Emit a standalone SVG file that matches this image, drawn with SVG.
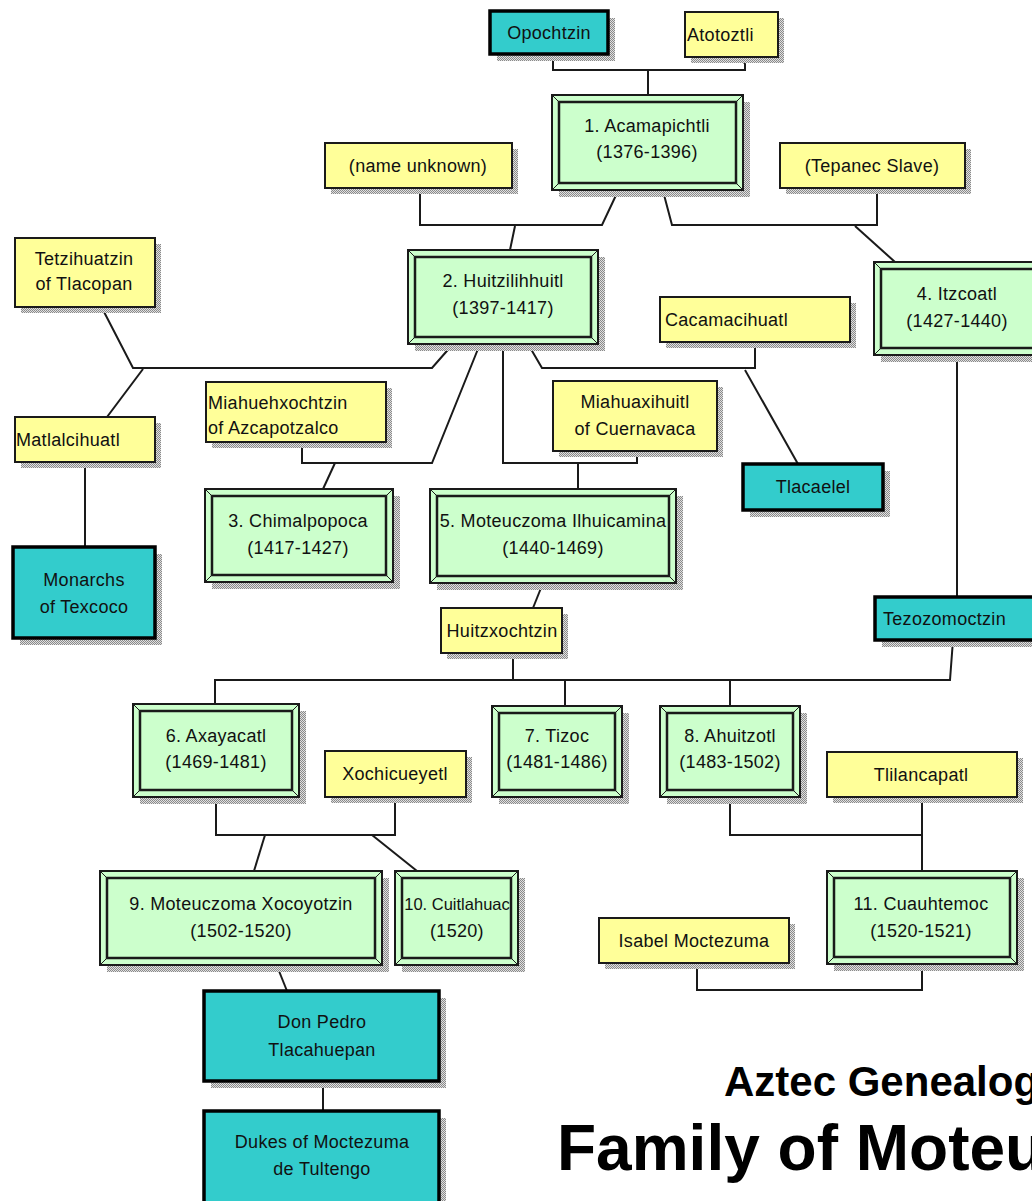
<svg xmlns="http://www.w3.org/2000/svg" width="1032" height="1201" viewBox="0 0 1032 1201">
<style>
.sh{fill:url(#dither)}
.y{fill:#ffff99;stroke:#1a1a1a;stroke-width:2}
.g{fill:#ccffcc;stroke:#1a1a1a;stroke-width:2}
.gi{fill:none;stroke:#1a1a1a;stroke-width:2.5}
.bv{fill:none;stroke:#1a1a1a;stroke-width:1}
.t{fill:#33cccc;stroke:#000;stroke-width:3.5}
text{font-family:"Liberation Sans",Arial,sans-serif;font-size:18px;letter-spacing:0.3px;fill:#111}
.c{text-anchor:middle}
.ln{fill:none;stroke:#1a1a1a;stroke-width:2}
.title{font-weight:bold;letter-spacing:0;fill:#000}
</style>
<defs>
<pattern id="dither" width="2" height="2" patternUnits="userSpaceOnUse">
<rect width="2" height="2" fill="#e0e0e0"/>
<rect width="1" height="1" fill="#8a8a8a"/>
<rect x="1" y="1" width="1" height="1" fill="#8a8a8a"/>
</pattern>
</defs>
<rect width="1032" height="1201" fill="#fff"/>

<g id="connectors">
<polyline class="ln" points="553,54 553,70 745,70 745,64 741,57"/>
<polyline class="ln" points="648,70 648,95"/>
<polyline class="ln" points="420,188 420,225 602,225 618,191"/>
<polyline class="ln" points="877,188 877,225 672,225 663,191"/>
<polyline class="ln" points="515,226 510,250"/>
<polyline class="ln" points="855,226 895,262"/>
<polyline class="ln" points="102,308 133,368 432,368 453,344"/>
<polyline class="ln" points="143,369 107,417"/>
<polyline class="ln" points="302,442 302,463 432,463 480,344"/>
<polyline class="ln" points="335,463 323,489"/>
<polyline class="ln" points="503,344 503,463 637,463 637,451"/>
<polyline class="ln" points="578,463 578,489"/>
<polyline class="ln" points="528,344 542,368 755,368 755,342"/>
<polyline class="ln" points="745,370 798,464"/>
<polyline class="ln" points="957,355 957,597"/>
<polyline class="ln" points="85,462 85,547"/>
<polyline class="ln" points="543,583 533,608"/>
<polyline class="ln" points="513,653 513,680"/>
<polyline class="ln" points="215,704 215,680 950,680 953,640"/>
<polyline class="ln" points="565,680 565,706"/>
<polyline class="ln" points="730,680 730,706"/>
<polyline class="ln" points="216,797 216,835 395,835 395,797"/>
<polyline class="ln" points="265,835 254,871"/>
<polyline class="ln" points="372,835 417,871"/>
<polyline class="ln" points="730,797 730,835 922,835"/>
<polyline class="ln" points="922,797 922,871"/>
<polyline class="ln" points="697,963 697,990 922,990 922,964"/>
<polyline class="ln" points="277,966 287,991"/>
<polyline class="ln" points="323,1081 323,1111"/>
</g>

<g id="opochtzin">
<rect class="sh" x="497" y="18" width="118" height="43"/>
<rect class="t" x="490" y="11" width="118" height="43"/>
<text class="c" x="549" y="39">Opochtzin</text>
</g>
<g id="atotoztli">
<rect class="sh" x="691" y="18" width="93" height="45"/>
<rect class="y" x="685" y="12" width="93" height="45"/>
<text x="687" y="41">Atotoztli</text>
</g>
<g id="acamapichtli">
<rect class="sh" x="559" y="102" width="191" height="95"/>
<rect class="g" x="552" y="95" width="191" height="95"/>
<rect class="gi" x="559" y="102" width="177" height="81"/>
<path class="bv" d="M552,95L559,102M743,95L736,102M552,190L559,183M743,190L736,183"/>
<text class="c" x="647" y="132">1. Acamapichtli</text>
<text class="c" x="647" y="158">(1376-1396)</text>
</g>
<g id="name-unknown">
<rect class="sh" x="331" y="149" width="187" height="45"/>
<rect class="y" x="325" y="143" width="187" height="45"/>
<text class="c" x="418" y="172">(name unknown)</text>
</g>
<g id="tepanec-slave">
<rect class="sh" x="786" y="149" width="185" height="45"/>
<rect class="y" x="780" y="143" width="185" height="45"/>
<text class="c" x="872" y="172">(Tepanec Slave)</text>
</g>
<g id="tetzihuatzin">
<rect class="sh" x="21" y="244" width="140" height="69"/>
<rect class="y" x="15" y="238" width="140" height="69"/>
<text class="c" x="84" y="265">Tetzihuatzin</text>
<text class="c" x="84" y="290">of Tlacopan</text>
</g>
<g id="huitzilihhuitl">
<rect class="sh" x="415" y="257" width="190" height="94"/>
<rect class="g" x="408" y="250" width="190" height="94"/>
<rect class="gi" x="415" y="257" width="176" height="80"/>
<path class="bv" d="M408,250L415,257M598,250L591,257M408,344L415,337M598,344L591,337"/>
<text class="c" x="503" y="287">2. Huitzilihhuitl</text>
<text class="c" x="503" y="314">(1397-1417)</text>
</g>
<g id="cacamacihuatl">
<rect class="sh" x="666" y="303" width="190" height="45"/>
<rect class="y" x="660" y="297" width="190" height="45"/>
<text x="665" y="326">Cacamacihuatl</text>
</g>
<g id="itzcoatl">
<rect class="sh" x="881" y="269" width="170" height="93"/>
<rect class="g" x="874" y="262" width="170" height="93"/>
<rect class="gi" x="881" y="269" width="156" height="79"/>
<path class="bv" d="M874,262L881,269M874,355L881,348"/>
<text class="c" x="957" y="300">4. Itzcoatl</text>
<text class="c" x="957" y="327">(1427-1440)</text>
</g>
<g id="matlalcihuatl">
<rect class="sh" x="21" y="423" width="140" height="45"/>
<rect class="y" x="15" y="417" width="140" height="45"/>
<text x="16" y="446">Matlalcihuatl</text>
</g>
<g id="miahuehxochtzin">
<rect class="sh" x="212" y="388" width="180" height="60"/>
<rect class="y" x="206" y="382" width="180" height="60"/>
<text x="208" y="409">Miahuehxochtzin</text>
<text x="208" y="434">of Azcapotzalco</text>
</g>
<g id="miahuaxihuitl">
<rect class="sh" x="559" y="387" width="164" height="70"/>
<rect class="y" x="553" y="381" width="164" height="70"/>
<text class="c" x="635" y="408">Miahuaxihuitl</text>
<text class="c" x="635" y="435">of Cuernavaca</text>
</g>
<g id="tlacaelel">
<rect class="sh" x="750" y="471" width="140" height="46"/>
<rect class="t" x="743" y="464" width="140" height="46"/>
<text class="c" x="813" y="493">Tlacaelel</text>
</g>
<g id="chimalpopoca">
<rect class="sh" x="212" y="496" width="188" height="93"/>
<rect class="g" x="205" y="489" width="188" height="93"/>
<rect class="gi" x="212" y="496" width="174" height="79"/>
<path class="bv" d="M205,489L212,496M393,489L386,496M205,582L212,575M393,582L386,575"/>
<text class="c" x="298" y="527">3. Chimalpopoca</text>
<text class="c" x="298" y="554">(1417-1427)</text>
</g>
<g id="moteuczoma-ilhuicamina">
<rect class="sh" x="437" y="496" width="246" height="94"/>
<rect class="g" x="430" y="489" width="246" height="94"/>
<rect class="gi" x="437" y="496" width="232" height="80"/>
<path class="bv" d="M430,489L437,496M676,489L669,496M430,583L437,576M676,583L669,576"/>
<text class="c" x="553" y="527">5. Moteuczoma Ilhuicamina</text>
<text class="c" x="553" y="554">(1440-1469)</text>
</g>
<g id="monarchs-texcoco">
<rect class="sh" x="20" y="554" width="142" height="91"/>
<rect class="t" x="13" y="547" width="142" height="91"/>
<text class="c" x="84" y="586">Monarchs</text>
<text class="c" x="84" y="613">of Texcoco</text>
</g>
<g id="huitzxochtzin">
<rect class="sh" x="447" y="614" width="121" height="45"/>
<rect class="y" x="441" y="608" width="121" height="45"/>
<text class="c" x="502" y="637">Huitzxochtzin</text>
</g>
<g id="tezozomoctzin">
<rect class="sh" x="882" y="604" width="170" height="43"/>
<rect class="t" x="875" y="597" width="170" height="43"/>
<text x="883" y="625">Tezozomoctzin</text>
</g>
<g id="axayacatl">
<rect class="sh" x="140" y="711" width="166" height="93"/>
<rect class="g" x="133" y="704" width="166" height="93"/>
<rect class="gi" x="140" y="711" width="152" height="79"/>
<path class="bv" d="M133,704L140,711M299,704L292,711M133,797L140,790M299,797L292,790"/>
<text class="c" x="216" y="742">6. Axayacatl</text>
<text class="c" x="216" y="768">(1469-1481)</text>
</g>
<g id="tizoc">
<rect class="sh" x="499" y="713" width="130" height="91"/>
<rect class="g" x="492" y="706" width="130" height="91"/>
<rect class="gi" x="499" y="713" width="116" height="77"/>
<path class="bv" d="M492,706L499,713M622,706L615,713M492,797L499,790M622,797L615,790"/>
<text class="c" x="557" y="742">7. Tizoc</text>
<text class="c" x="557" y="768">(1481-1486)</text>
</g>
<g id="ahuitzotl">
<rect class="sh" x="667" y="713" width="140" height="91"/>
<rect class="g" x="660" y="706" width="140" height="91"/>
<rect class="gi" x="667" y="713" width="126" height="77"/>
<path class="bv" d="M660,706L667,713M800,706L793,713M660,797L667,790M800,797L793,790"/>
<text class="c" x="730" y="742">8. Ahuitzotl</text>
<text class="c" x="730" y="768">(1483-1502)</text>
</g>
<g id="xochicueyetl">
<rect class="sh" x="331" y="757" width="141" height="46"/>
<rect class="y" x="325" y="751" width="141" height="46"/>
<text class="c" x="395" y="780">Xochicueyetl</text>
</g>
<g id="tlilancapatl">
<rect class="sh" x="833" y="758" width="190" height="45"/>
<rect class="y" x="827" y="752" width="190" height="45"/>
<text class="c" x="921" y="781">Tlilancapatl</text>
</g>
<g id="moteuczoma-xocoyotzin">
<rect class="sh" x="107" y="878" width="282" height="94"/>
<rect class="g" x="100" y="871" width="282" height="94"/>
<rect class="gi" x="107" y="878" width="268" height="80"/>
<path class="bv" d="M100,871L107,878M382,871L375,878M100,965L107,958M382,965L375,958"/>
<text class="c" x="241" y="910">9. Moteuczoma Xocoyotzin</text>
<text class="c" x="241" y="937">(1502-1520)</text>
</g>
<g id="cuitlahuac">
<rect class="sh" x="402" y="878" width="123" height="94"/>
<rect class="g" x="395" y="871" width="123" height="94"/>
<rect class="gi" x="402" y="878" width="109" height="80"/>
<path class="bv" d="M395,871L402,878M518,871L511,878M395,965L402,958M518,965L511,958"/>
<text class="c" x="457" y="910" style="font-size:16.5px;letter-spacing:0">10. Cuitlahuac</text>
<text class="c" x="457" y="937">(1520)</text>
</g>
<g id="cuauhtemoc">
<rect class="sh" x="834" y="878" width="190" height="93"/>
<rect class="g" x="827" y="871" width="190" height="93"/>
<rect class="gi" x="834" y="878" width="176" height="79"/>
<path class="bv" d="M827,871L834,878M1017,871L1010,878M827,964L834,957M1017,964L1010,957"/>
<text class="c" x="921" y="910">11. Cuauhtemoc</text>
<text class="c" x="921" y="937">(1520-1521)</text>
</g>
<g id="isabel-moctezuma">
<rect class="sh" x="605" y="924" width="190" height="45"/>
<rect class="y" x="599" y="918" width="190" height="45"/>
<text class="c" x="694" y="947">Isabel Moctezuma</text>
</g>
<g id="don-pedro">
<rect class="sh" x="211" y="998" width="235" height="90"/>
<rect class="t" x="204" y="991" width="235" height="90"/>
<text class="c" x="322" y="1028">Don Pedro</text>
<text class="c" x="322" y="1056">Tlacahuepan</text>
</g>
<g id="dukes">
<rect class="sh" x="211" y="1118" width="235" height="100"/>
<rect class="t" x="204" y="1111" width="235" height="100"/>
<text class="c" x="322" y="1148">Dukes of Moctezuma</text>
<text class="c" x="322" y="1175">de Tultengo</text>
</g>

<g id="title">
<text class="title" x="724" y="1096" style="font-size:42px">Aztec Genealog</text>
<text class="title" x="557" y="1170" style="font-size:64px">Family of Moteu</text>
</g>
</svg>
